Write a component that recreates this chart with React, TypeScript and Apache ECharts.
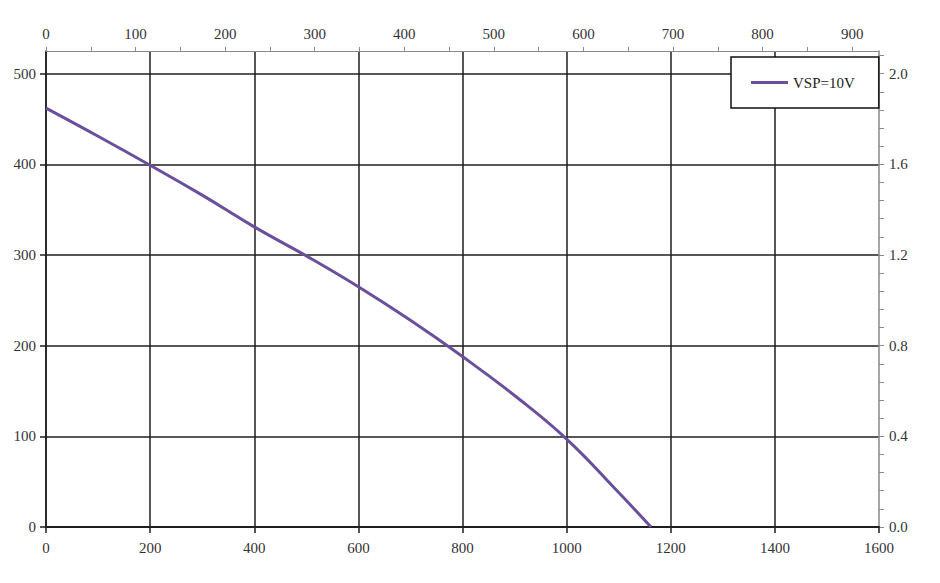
import React, { useEffect, useRef } from "react";
import * as echarts from "echarts";

const flowM3h = [0, 100, 200, 300, 400, 500, 600, 700, 800, 900, 1000, 1100, 1162];
const pressurePa = [462, 431, 399, 366, 331, 299, 265, 228, 188, 145, 97, 38, 0];
const seriesName = "VSP=10V";

const FONT = "Liberation Serif";
const LABEL_COLOR = "#333";
const GRID_COLOR = "#1e1e1e";
const EDGE_COLOR = "#8a8a8a";

const isMultiple = (v: number, step: number) => Math.abs(v / step - Math.round(v / step)) < 1e-6;

export default function App() {
  const ref = useRef<HTMLDivElement>(null);
  useEffect(() => {
    if (!ref.current) return;
    const chart = echarts.init(ref.current, null, { renderer: "svg" });
    const data = flowM3h.map((x, i) => [x, pressurePa[i]]);
    const labelStyle = { fontFamily: FONT, fontSize: 15, color: LABEL_COLOR };
    chart.setOption({
      animation: false,
      backgroundColor: "#fff",
      grid: { left: 46, right: 61, top: 51, bottom: 56, containLabel: false },
      legend: {
        show: true,
        left: 731,
        top: 57,
        orient: "horizontal",
        backgroundColor: "#fff",
        borderColor: "#111",
        borderWidth: 1.5,
        borderRadius: 0,
        padding: [18, 24, 18, 20],
        itemWidth: 37,
        itemHeight: 3,
        data: [{ name: seriesName, icon: "rect" }],
        textStyle: { fontFamily: FONT, fontSize: 15, color: "#222" },
        z: 10,
      },
      xAxis: [
        {
          type: "value",
          position: "bottom",
          min: 0,
          max: 1600,
          interval: 200,
          axisLine: { show: true, onZero: false, lineStyle: { color: GRID_COLOR, width: 2 } },
          axisTick: { show: true, inside: false, length: 6, lineStyle: { color: GRID_COLOR, width: 1.5 } },
          axisLabel: { ...labelStyle, margin: 13, formatter: (v: number) => String(v) },
          splitLine: {
            show: true,
            lineStyle: {
              color: [GRID_COLOR, GRID_COLOR, GRID_COLOR, GRID_COLOR, GRID_COLOR, GRID_COLOR, GRID_COLOR, GRID_COLOR, "rgba(0,0,0,0)"],
              width: 1.5,
            },
          },
        },
        {
          type: "value",
          position: "top",
          min: 0,
          max: 930,
          interval: 50,
          axisLine: { show: true, onZero: false, lineStyle: { color: EDGE_COLOR, width: 1.2 } },
          axisTick: { show: true, inside: false, length: 4, lineStyle: { color: EDGE_COLOR, width: 1 } },
          axisLabel: {
            ...labelStyle,
            margin: 10,
            showMaxLabel: false,
            formatter: (v: number) => (isMultiple(v, 100) && v <= 900 ? String(Math.round(v)) : ""),
          },
          splitLine: { show: false },
        },
      ],
      yAxis: [
        {
          type: "value",
          position: "left",
          min: 0,
          max: 525,
          interval: 100,
          axisLine: { show: true, onZero: false, lineStyle: { color: GRID_COLOR, width: 1.5 } },
          axisTick: {
            show: true,
            inside: false,
            length: 6,
            customValues: [0, 100, 200, 300, 400, 500],
            lineStyle: { color: GRID_COLOR, width: 1.5 },
          },
          axisLabel: { ...labelStyle, margin: 10, showMaxLabel: false },
          splitLine: {
            show: true,
            lineStyle: {
              color: [GRID_COLOR, GRID_COLOR, GRID_COLOR, GRID_COLOR, GRID_COLOR, GRID_COLOR, "rgba(0,0,0,0)"],
              width: 1.5,
            },
          },
        },
        {
          type: "value",
          position: "right",
          min: 0,
          max: 2.1,
          interval: 0.08,
          axisLine: { show: true, onZero: false, lineStyle: { color: EDGE_COLOR, width: 1.5 } },
          axisTick: { show: true, inside: false, length: 5, lineStyle: { color: EDGE_COLOR, width: 1 } },
          axisLabel: {
            ...labelStyle,
            margin: 10,
            showMaxLabel: false,
            formatter: (v: number) => (isMultiple(v, 0.4) && v < 2.05 ? v.toFixed(1) : ""),
          },
          splitLine: { show: false },
        },
      ],
      series: [
        {
          name: seriesName,
          type: "line",
          xAxisIndex: 0,
          yAxisIndex: 0,
          data,
          smooth: 0.45,
          symbol: "none",
          lineStyle: { color: "#6a4f9c", width: 3 },
          itemStyle: { color: "#6a4f9c" },
          z: 5,
        },
      ],
    });
    return () => chart.dispose();
  }, []);
  return (
    <div
      ref={ref}
      style={{ position: "fixed", left: 0, top: 0, width: 940, height: 583, background: "#fff" }}
    />
  );
}
